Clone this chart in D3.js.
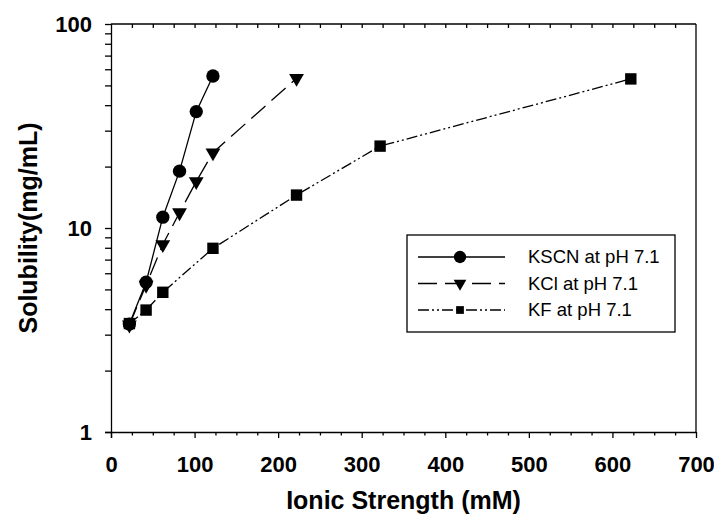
<!DOCTYPE html>
<html><head><meta charset="utf-8">
<script src="https://cdn.jsdelivr.net/npm/d3@7"></script>
<style>
body{margin:0;background:#fff;}
text{font-family:Arial,"Liberation Sans",sans-serif;fill:#000;}
</style></head>
<body><svg id="c" width="714" height="516"></svg>
<script>
// Data
const kscnX = [22, 42, 62, 82, 102, 122];
const kscnY = [3.38, 5.42, 11.3, 19.0, 37.2, 55.6];
const kclX = [22, 42, 62, 82, 102, 122, 222];
const kclY = [3.35, 5.25, 8.3, 11.9, 16.9, 23.4, 54.2];
const kfX = [22, 42, 62, 122, 222, 322, 622];
const kfY = [3.4, 3.96, 4.84, 7.95, 14.5, 25.2, 53.8];
const seriesNames = ["KSCN at pH 7.1", "KCl at pH 7.1", "KF at pH 7.1"];
const xTickLabels = [0, 100, 200, 300, 400, 500, 600, 700];
const yTickLabels = [1, 10, 100];
const xTitle = "Ionic Strength (mM)";
const yTitle = "Solubility(mg/mL)";

const svg = d3.select("#c");
const L = 111, R = 696, T = 24, B = 432;
const x = d3.scaleLinear().domain([0, 700]).range([L, R]);
const y = d3.scaleLog().domain([1, 100]).range([B, T]);

const sw = 1.3;
// frame lines
const g = svg.append("g");
g.append("line").attr("x1", L).attr("x2", R).attr("y1", T).attr("y2", T).attr("stroke", "#000").attr("stroke-width", sw);
g.append("line").attr("x1", R).attr("x2", R).attr("y1", T).attr("y2", B).attr("stroke", "#000").attr("stroke-width", sw);

// bottom axis major
const xMajor = d3.axisBottom(x).tickValues(xTickLabels).tickSize(6).tickSizeOuter(0).tickPadding(5).tickFormat(d3.format("d"));
const gx = svg.append("g").attr("transform", `translate(0,${B})`).call(xMajor);
gx.select(".domain").attr("stroke-width", sw).attr("d", `M${L-6},0.5H${R}`);
gx.selectAll(".tick line").attr("stroke-width", sw);
gx.selectAll(".tick text").style("font-size", "22px").style("font-weight", "bold").attr("y", 40).attr("dy", 0);
// bottom minor
const xMinorVals = d3.range(25, 700, 25).filter(v => v % 100 !== 0);
svg.append("g").attr("transform", `translate(0,${B})`)
  .call(d3.axisBottom(x).tickValues(xMinorVals).tickSize(3.5).tickFormat(""))
  .call(s => s.select(".domain").remove())
  .selectAll("line").attr("stroke-width", sw);
// top ticks inward
svg.append("g").attr("transform", `translate(0,${T})`)
  .call(d3.axisBottom(x).tickValues(d3.range(25, 700, 25)).tickSize(4).tickFormat(""))
  .call(s => s.select(".domain").remove())
  .selectAll("line").attr("stroke-width", sw);

// left axis
const yMinor = [];
for (let d = 1; d < 100; d *= 10) for (let k = 2; k <= 9; k++) yMinor.push(k * d);
const gy = svg.append("g").attr("transform", `translate(${L},0)`)
  .call(d3.axisLeft(y).tickValues(yTickLabels).tickSize(6).tickSizeOuter(0).tickPadding(13).tickFormat(d3.format("d")));
gy.select(".domain").attr("stroke-width", sw).attr("d", `M0.5,${T}V${B+6}`);
gy.selectAll(".tick line").attr("stroke-width", sw);
gy.selectAll(".tick text").style("font-size", "22px").style("font-weight", "bold").attr("dy", "0.36em");
svg.append("g").attr("transform", `translate(${L},0)`)
  .call(d3.axisLeft(y).tickValues(yMinor).tickSize(6).tickFormat(""))
  .call(s => s.select(".domain").remove())
  .selectAll("line").attr("stroke-width", sw);

// titles
svg.append("text").attr("x", (L + R) / 2).attr("y", 509).attr("text-anchor", "middle")
  .style("font-size", "25px").style("font-weight", "bold").text(xTitle);
svg.append("text").attr("transform", `translate(37,${(T + B) / 2}) rotate(-90)`).attr("text-anchor", "middle")
  .style("font-size", "25px").style("font-weight", "bold").text(yTitle);

// series
const dashes = [null, "19,8", "11,3,2,3,2,3"];
const symbols = [d3.symbolCircle, d3.symbolTriangle, d3.symbolSquare];
const sizes = [140, 95, 130];
const legendSizes = [120, 70, 60];
const series = [
  {xs: kscnX, ys: kscnY},
  {xs: kclX, ys: kclY},
  {xs: kfX, ys: kfY}
];
function sym(i, s) {
  return d3.symbol().type(symbols[i]).size(s)();
}
const line = d3.line().x(d => x(d[0])).y(d => y(d[1]));
[2, 1, 0].forEach(i => {
  const pts = series[i].xs.map((v, j) => [v, series[i].ys[j]]);
  svg.append("path").attr("d", line(pts)).attr("fill", "none").attr("stroke", "#000")
    .attr("stroke-width", 1.3).attr("stroke-dasharray", dashes[i]);
  svg.append("g").selectAll("path").data(pts).join("path")
    .attr("d", sym(i, sizes[i]))
    .attr("transform", d => `translate(${x(d[0])},${y(d[1])})${i === 1 ? " rotate(180)" : ""}`)
    .attr("fill", "#000");
});

// legend
const lg = svg.append("g");
lg.append("rect").attr("x", 407).attr("y", 235).attr("width", 268).attr("height", 97)
  .attr("fill", "#fff").attr("stroke", "#000").attr("stroke-width", sw);
const rowY = [257, 283.5, 310];
seriesNames.forEach((n, i) => {
  lg.append("line").attr("x1", 418).attr("x2", 505).attr("y1", rowY[i]).attr("y2", rowY[i])
    .attr("stroke", "#000").attr("stroke-width", 1.3).attr("stroke-dasharray", dashes[i]);
  lg.append("path").attr("d", sym(i, legendSizes[i]))
    .attr("transform", `translate(460,${rowY[i]})${i === 1 ? " rotate(180)" : ""}`).attr("fill", "#000");
  lg.append("text").attr("x", 528).attr("y", rowY[i]).attr("dy", "0.35em")
    .style("font-size", "18.5px").text(n);
});
</script></body></html>
